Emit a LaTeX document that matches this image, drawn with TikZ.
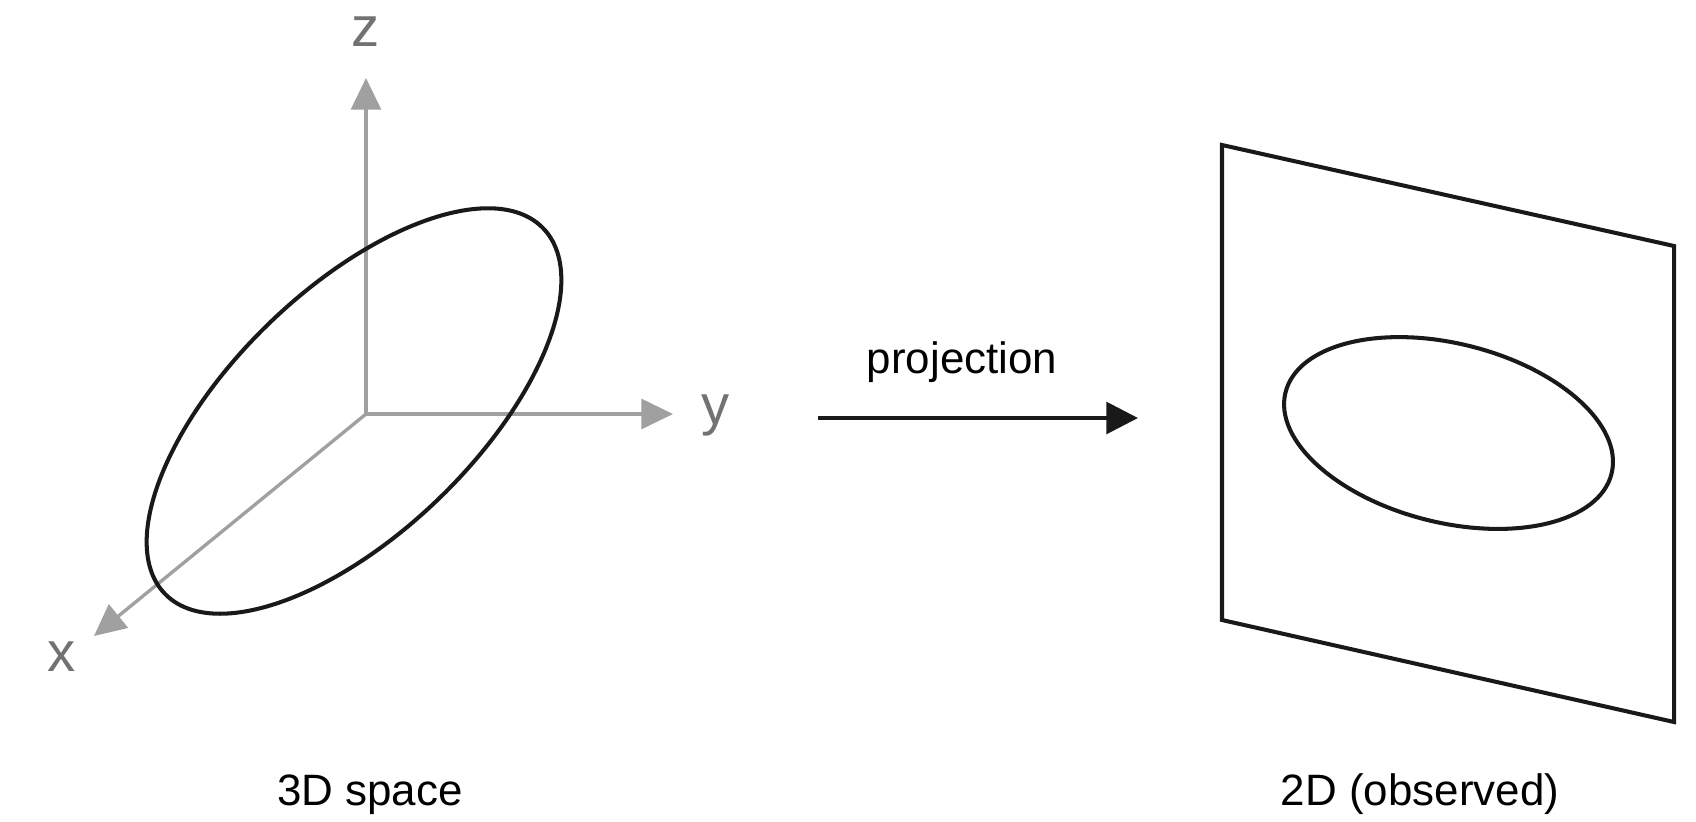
\documentclass[tikz,border=0pt]{standalone}
\usepackage{fontspec}
\setmainfont{Liberation Sans}
\usetikzlibrary{arrows.meta}
\definecolor{axisgray}{HTML}{A0A0A0}
\definecolor{labelgray}{HTML}{727272}
\tikzset{
  axis/.style={draw=axisgray, line width=1.9pt, -{Triangle[length=18pt,width=17pt]}},
  axislabel/.style={text=labelgray, font=\fontsize{32}{36}\selectfont, anchor=base, inner sep=0pt},
  caption/.style={font=\fontsize{25}{30}\selectfont, anchor=base, inner sep=0pt},
  curve/.style={draw=black!90, line width=2.3pt},
  projarrow/.style={draw=black!90, fill=black!90, line width=2.2pt, -{Triangle[length=18pt,width=18pt]}}
}
\begin{document}
\begin{tikzpicture}[x=0.02cm, y=-0.02cm]
\useasboundingbox (0,0) rectangle (1696,821);
% 3D axes
\coordinate (O) at (366,414);
\coordinate (ztip) at (366,78);
\coordinate (ytip) at (673,414);
\coordinate (xtip) at (94,636);
\draw[axis] (O) -- (ztip);
\draw[axis] (O) -- (ytip);
\draw[axis] (O) -- (xtip);
\node[axislabel] (zl) at (366,47) {z};
\node[axislabel] (yl) at (716,424) {y};
\node[axislabel] (xl) at (62,671) {x};
% 3D ellipse
\coordinate (e3) at (354,411);
\draw[curve, rotate around={44:(e3)}] (e3) ellipse [x radius=263, y radius=122];
% projection arrow
\coordinate (pa) at (818,418);
\coordinate (pb) at (1138,418);
\draw[projarrow] (pa) -- (pb);
\node[caption] (proj) at (962,373) {projection};
% plane
\coordinate (p1) at (1222,145);
\coordinate (p2) at (1674,246);
\coordinate (p3) at (1674,722);
\coordinate (p4) at (1222,620);
\draw[curve, line join=miter] (p1) -- (p2) -- (p3) -- (p4) -- cycle;
% 2D ellipse
\coordinate (e2) at (1448.5,433);
\draw[curve, rotate around={-14:(e2)}] (e2) ellipse [x radius=168, y radius=89.5];
% captions
\node[caption] (c3) at (370,805) {3D space};
\node[caption] (c2) at (1420,805) {2D (observed)};
\end{tikzpicture}
\end{document}
